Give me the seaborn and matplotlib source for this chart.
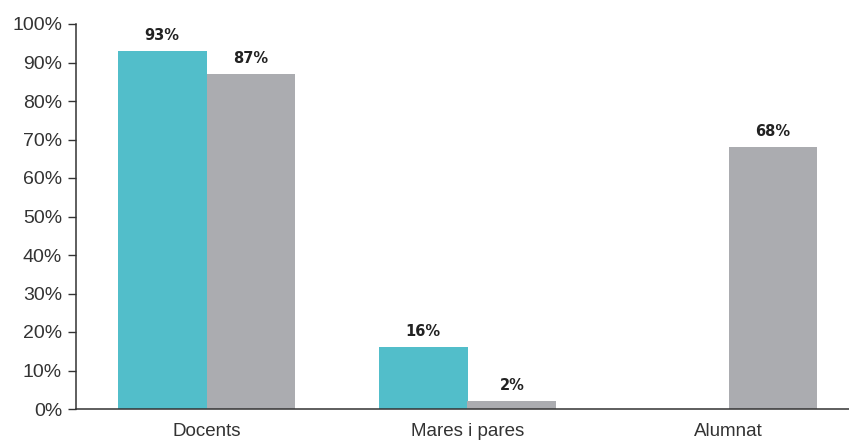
import pandas as pd
import numpy as np
import matplotlib
matplotlib.use("Agg")
import matplotlib.pyplot as plt
import seaborn as sns

# Dades
categories = ["Docents", "Mares i pares", "Alumnat"]
series_names = ["Sèrie A", "Sèrie B"]
serie_a = [93, 16, np.nan]
serie_b = [87, 2, 68]

colors = ["#52BECA", "#ABACB0"]

df = pd.DataFrame({
    "categoria": categories * 2,
    "serie": [series_names[0]] * 3 + [series_names[1]] * 3,
    "valor": serie_a + serie_b,
})

sns.set_style("white")
plt.rcParams["font.family"] = ["Liberation Sans", "DejaVu Sans"]

fig = plt.figure(figsize=(8.49, 4.45), dpi=100)
ax = fig.add_axes([76 / 849, 36 / 445, 783 / 849, 385 / 445])

sns.barplot(data=df, x="categoria", y="valor", hue="serie", order=categories,
            hue_order=series_names, palette=colors, width=0.68, linewidth=0,
            saturation=1, legend=False, ax=ax)

# Etiquetes de valor
for cont in ax.containers:
    labels = ["" if np.isnan(b.get_height()) else f"{b.get_height():.0f}%" for b in cont]
    ax.bar_label(cont, labels=labels, padding=6, fontsize=10.5,
                 fontweight="bold", color="#222222", family="DejaVu Sans")

ax.set_ylim(0, 100)
ax.set_xlim(-0.5, 2.5)
ax.set_yticks(np.arange(0, 101, 10))
ax.set_yticklabels([f"{v}%" for v in range(0, 101, 10)])
ax.set_xlabel("")
ax.set_ylabel("")

# Marques de separació entre categories
ax.set_xticks([0.5, 1.5], minor=True)
ax.tick_params(axis="x", which="minor", length=10, width=1, color="#333333", direction="out")
ax.tick_params(axis="x", which="major", length=0, pad=10, labelsize=13.5, labelcolor="#333333")
ax.tick_params(axis="y", which="major", length=6, width=1, color="#333333", direction="out",
               labelsize=14, labelcolor="#333333", pad=4, left=True)

for side in ["top", "right"]:
    ax.spines[side].set_visible(False)
for side in ["left", "bottom"]:
    ax.spines[side].set_color("#333333")
    ax.spines[side].set_linewidth(1.1)

fig.savefig("out.png", dpi=100)
